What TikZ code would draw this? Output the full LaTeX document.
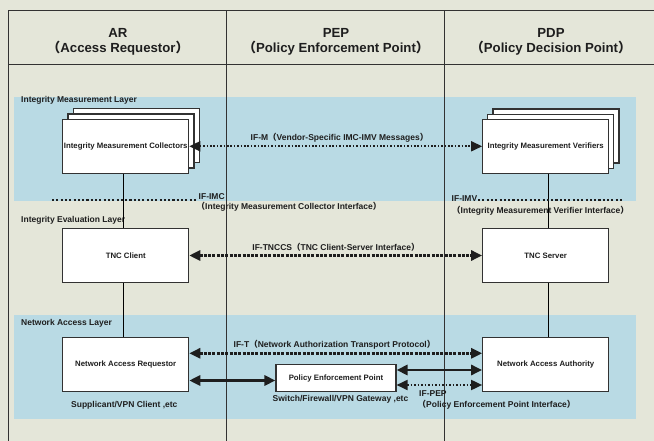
\documentclass[tikz,border=0pt]{standalone}
\usepackage{fontspec}
\setmainfont{Liberation Sans}
\newfontfamily\cjkfont{Noto Sans CJK JP}
\usetikzlibrary{arrows.meta,calc}
\newcommand{\lpar}{{\cjkfont （}}
\newcommand{\rpar}{{\cjkfont ）}}
\definecolor{bgc}{RGB}{228,230,217}
\definecolor{bandc}{RGB}{185,218,228}
\definecolor{linec}{RGB}{50,50,50}
\definecolor{txtc}{RGB}{30,30,30}
\begin{document}
\begin{tikzpicture}[x=1pt,y=-1pt,
  box/.style={draw=linec, line width=1.1pt, fill=white, minimum width=126pt, minimum height=54pt, inner sep=0pt, text=txtc, font=\bfseries\fontsize{7.8}{9}\selectfont},
  pepbox/.style={box, minimum width=120pt, minimum height=27.4pt},
  lbl/.style={font=\bfseries\fontsize{8.5}{10}\selectfont, inner sep=0pt, text=txtc},
  hdr/.style={font=\bfseries\fontsize{13.2}{15}\selectfont, inner sep=0pt, align=center, text=txtc},
  grid/.style={draw=linec, line width=0.9pt},
  conn/.style={draw=black, line width=0.9pt},
  tips/.style={{Triangle[length=11pt,width=10pt]}-{Triangle[length=11pt,width=10pt]}},
  finedot/.style={tips, draw=txtc, line width=1.6pt, dash pattern=on 1.6pt off 1.8pt},
  bigdot/.style={draw=txtc, line width=2.1pt, dash pattern=on 2.1pt off 2.2pt},
  thickdash/.style={tips, draw=txtc, line width=2.8pt, dash pattern=on 3pt off 1.3pt},
  solidarrow/.style={tips, draw=txtc, line width=2.8pt},
  pepdot/.style={tips, draw=txtc, line width=1.8pt, dash pattern=on 1.8pt off 1.7pt}
]
\useasboundingbox (0,0) rectangle (654,441);
\fill[bgc] (0,0) rectangle (654,441);
% bands
\fill[bandc] (14,97) rectangle (636,200.7);
\fill[bandc] (14,315) rectangle (636,418.7);
% grid
\draw[grid] (8,441) -- (8,10.7) -- (654,10.7);
\draw[grid] (8,64.3) -- (654,64.3);
\draw[grid] (226.7,10.7) -- (226.7,441);
\draw[grid] (444.3,10.7) -- (444.3,441);
% headers
\node[hdr] (hAR) at (118,41.5) {AR\\\lpar Access Requestor\rpar};
\node[hdr] (hPEP) at (336,41.5) {PEP\\\lpar Policy Enforcement Point\rpar};
\node[hdr] (hPDP) at (551,41.5) {PDP\\\lpar Policy Decision Point\rpar};
% layer labels
\node[lbl, anchor=west] (lIML) at (21,100.5) {Integrity Measurement Layer};
\node[lbl, anchor=west] (lIEL) at (21,220) {Integrity Evaluation Layer};
\node[lbl, anchor=west] (lNAL) at (21,323.5) {Network Access Layer};
% boxes
\node[box] (imcB) at (136.2,135.8) {};
\node[box] (imcM) at (131,141) {};
\node[box] (imc) at (125.7,146.3) {Integrity Measurement Collectors};
\node[box] (imvB) at (556,136) {};
\node[box] (imvM) at (550.9,141.1) {};
\node[box] (imv) at (545.7,146.3) {Integrity Measurement Verifiers};
\node[box] (tncc) at (125.7,255.5) {TNC Client};
\node[box] (tncs) at (545.7,255.5) {TNC Server};
\node[box] (nar) at (125.7,364.5) {Network Access Requestor};
\node[box] (naa) at (545.7,364.5) {Network Access Authority};
\node[pepbox] (pep) at (336,378) {Policy Enforcement Point};
% vertical connectors
\draw[conn] ([xshift=-2.4pt]imc.south) -- ([xshift=-2.4pt]tncc.north);
\draw[conn] ([xshift=-2.4pt]tncc.south) -- ([xshift=-2.4pt]nar.north);
\draw[conn] ([xshift=2.6pt]imv.south) -- ([xshift=2.6pt]tncs.north);
\draw[conn] ([xshift=2.6pt]tncs.south) -- ([xshift=2.6pt]naa.north);
% IF-M
\draw[finedot] (imc.east) -- (imv.west);
\node[lbl] (lIFM) at (339.5,138) {IF-M\lpar Vendor-Specific IMC-IMV Messages\rpar};
% IF-IMC / IF-IMV
\coordinate (imcL) at (52,200.3);
\coordinate (imcR) at (197,200.3);
\draw[bigdot] (imcL) -- (imcR);
\node[lbl, anchor=west] (lIFIMC) at (198.5,197) {IF-IMC};
\node[lbl, anchor=west] (lIMCi) at (196.5,206.5) {\lpar Integrity Measurement Collector Interface\rpar};
\coordinate (imvL) at (478,200.3);
\coordinate (imvR) at (624,200.3);
\draw[bigdot] (imvL) -- (imvR);
\node[lbl, anchor=west] (lIFIMV) at (451.5,199) {IF-IMV};
\node[lbl, anchor=west] (lIMVi) at (452,210.7) {\lpar Integrity Measurement Verifier Interface\rpar};
% IF-TNCCS
\draw[thickdash] (tncc.east) -- (tncs.west);
\node[lbl] (lTNCCS) at (336,247) {IF-TNCCS\lpar TNC Client-Server Interface\rpar};
% IF-T
\draw[thickdash] ([yshift=11.2pt]nar.east) -- ([yshift=11.2pt]naa.west);
\node[lbl] (lIFT) at (334.5,344.8) {IF-T\lpar Network Authorization Transport Protocol\rpar};
% NAR <-> PEP
\draw[solidarrow] ([yshift=-2.5pt]pep.west -| nar.east) -- ([yshift=-2.5pt]pep.west);
% PEP <-> NAA
\draw[solidarrow] ([yshift=8pt]pep.east) -- ([yshift=8pt]pep.east -| naa.west);
\draw[pepdot] ([yshift=-7pt]pep.east) -- ([yshift=-7pt]pep.east -| naa.west);
\node[lbl, anchor=west] (lIFPEP) at (419,393.3) {IF-PEP};
\node[lbl, anchor=west] (lPEPi) at (417.5,404.3) {\lpar Policy Enforcement Point Interface\rpar};
% captions
\node[lbl] (capNAR) at (124.3,405) {Supplicant/VPN Client ,etc};
\node[lbl] (capPEP) at (340.5,399.3) {Switch/Firewall/VPN Gateway ,etc};
\end{tikzpicture}
\end{document}
